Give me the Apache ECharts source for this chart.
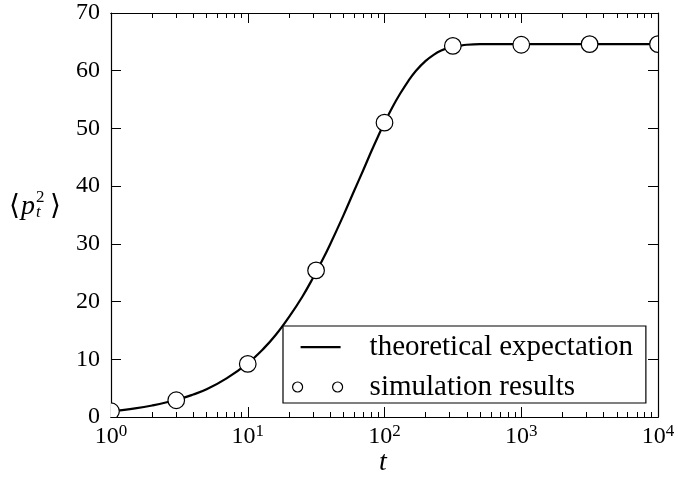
<!DOCTYPE html>
<html>
<head>
<meta charset="utf-8">
<script src="https://cdn.jsdelivr.net/npm/echarts@6/dist/echarts.min.js"></script>
<style>html,body{margin:0;padding:0;background:#fff}#c{width:678px;height:480px}</style>
</head>
<body>
<div id="c"></div>
<script>
// Simulation results (circles)
const simT = [1, 3, 10, 31.6, 100, 316, 1000, 3162, 10000];
const simVal = [1.0, 2.9, 9.2, 25.4, 51.0, 64.3, 64.5, 64.6, 64.6];
// Theoretical expectation (curve)
const theoryT = [1, 1.5, 2, 3, 4, 5, 7, 10, 13, 16, 20, 25, 30, 35, 40, 50, 60, 70, 80, 90, 100, 115, 130, 150, 170, 200, 230, 260, 300, 350, 400, 500, 700, 1000, 2000, 5000, 10000];
const theoryVal = [1.0, 1.5, 2.0, 2.95, 3.9, 4.8, 6.7, 9.3, 11.8, 14.2, 17.3, 20.8, 24.1, 27.1, 29.9, 34.9, 39.2, 42.8, 46.0, 48.7, 51.0, 53.8, 56.0, 58.3, 60.0, 61.7, 62.8, 63.5, 64.0, 64.3, 64.5, 64.6, 64.6, 64.6, 64.6, 64.6, 64.6];
// Axis ticks
const xMajorTicks = [1, 10, 100, 1000, 10000];
const xMinorTicks = [2,3,4,5,6,7,8,9,20,30,40,50,60,70,80,90,200,300,400,500,600,700,800,900,2000,3000,4000,5000,6000,7000,8000,9000];
const yTicks = [0, 10, 20, 30, 40, 50, 60, 70];
const legendNames = ['theoretical expectation', 'simulation results'];

const SERIF = 'Liberation Serif';
const chart = echarts.init(document.getElementById('c'), null, {renderer: 'canvas'});

const axisLine = {show: true, lineStyle: {color: '#000', width: 1.2}};
function xAxisDef(pos, ticks, len, labels) {
  return {
    type: 'log', logBase: 10, min: 1, max: 10000, position: pos,
    axisLine: axisLine,
    axisTick: {show: true, inside: true, length: len, customValues: ticks, lineStyle: {color: '#000', width: 1}},
    minorTick: {show: false},
    splitLine: {show: false},
    axisLabel: labels ? {
      show: true, customValues: xMajorTicks, margin: 6,
      formatter: function (v) { return '{n|10}{s|' + Math.round(Math.log10(v)) + '}'; },
      rich: {
        n: {fontFamily: SERIF, fontSize: 24, color: '#000', verticalAlign: 'bottom'},
        s: {fontFamily: SERIF, fontSize: 17, color: '#000', verticalAlign: 'bottom', padding: [0, 0, 9, 0]}
      }
    } : {show: false}
  };
}
function yAxisDef(pos, labels) {
  return {
    type: 'value', min: 0, max: 70, interval: 10, position: pos,
    axisLine: axisLine,
    axisTick: {show: true, inside: true, length: 10, lineStyle: {color: '#000', width: 1}},
    splitLine: {show: false},
    axisLabel: labels ? {show: true, margin: 11, fontFamily: SERIF, fontSize: 24, color: '#000',
      customValues: yTicks} : {show: false}
  };
}

const option = {
  backgroundColor: '#fff',
  animation: false,
  grid: {left: 111, right: 20, top: 13, bottom: 63, containLabel: false},
  xAxis: [
    xAxisDef('bottom', xMajorTicks, 10, true),
    xAxisDef('bottom', xMinorTicks, 5, false),
    xAxisDef('top', xMajorTicks, 10, false),
    xAxisDef('top', xMinorTicks, 5, false)
  ],
  yAxis: [yAxisDef('left', true), yAxisDef('right', false)],
  legend: {
    orient: 'vertical', left: 283, top: 326,
    padding: [6, 13, 1, 9], itemGap: 10,
    itemWidth: 50, itemHeight: 10,
    backgroundColor: '#fff', borderColor: '#000', borderWidth: 1.2, borderRadius: 0,
    textStyle: {fontFamily: SERIF, fontSize: 29, color: '#000', lineHeight: 30, padding: [0, 0, 0, 22]},
    data: [
      {name: legendNames[0], icon: 'path://M0,0L0,0M8,4h40v2.2h-40zM50,10L50,10', itemStyle: {color: '#000', borderWidth: 0}},
      {name: legendNames[1], icon: 'path://M0,5a5,5 0 1,0 10,0a5,5 0 1,0 -10,0zM40,5a5,5 0 1,0 10,0a5,5 0 1,0 -10,0z',
        itemStyle: {color: '#fff', borderColor: '#000', borderWidth: 1.2}}
    ],
    selectedMode: false,
    z: 20
  },
  series: [
    {
      name: legendNames[0], type: 'line', xAxisIndex: 0, yAxisIndex: 0,
      data: theoryT.map((t, i) => [t, theoryVal[i]]),
      showSymbol: false, symbol: 'none', smooth: 0.4,
      lineStyle: {color: '#000', width: 2.2}, itemStyle: {color: '#000'}, z: 2
    },
    {
      name: legendNames[1], type: 'custom', xAxisIndex: 0, yAxisIndex: 0,
      data: simT.map((t, i) => [t, simVal[i]]),
      clip: true,
      itemStyle: {color: '#fff', borderColor: '#000', borderWidth: 1.2},
      renderItem: function (params, api) {
        const p = api.coord([api.value(0), api.value(1)]);
        return {type: 'circle', shape: {cx: p[0], cy: p[1], r: 8.3},
          style: {fill: '#fff', stroke: '#000', lineWidth: 1.2}};
      },
      z: 3
    }
  ],
  graphic: [
    {type: 'text', left: 9, top: 193, style: {text: '⟨', font: '28px "DejaVu Serif"', fill: '#000'}},
    {type: 'text', left: 21, top: 193, style: {text: 'p', font: 'italic 28px ' + SERIF, fill: '#000'}},
    {type: 'text', left: 36, top: 189, style: {text: '2', font: '17px ' + SERIF, fill: '#000'}},
    {type: 'text', left: 36, top: 204, style: {text: 't', font: 'italic 17px ' + SERIF, fill: '#000'}},
    {type: 'text', left: 50, top: 193, style: {text: '⟩', font: '28px "DejaVu Serif"', fill: '#000'}},
    {type: 'text', left: 379, top: 449, style: {text: 't', font: 'italic 28px ' + SERIF, fill: '#000'}}
  ]
};
chart.setOption(option);
</script>
</body>
</html>
